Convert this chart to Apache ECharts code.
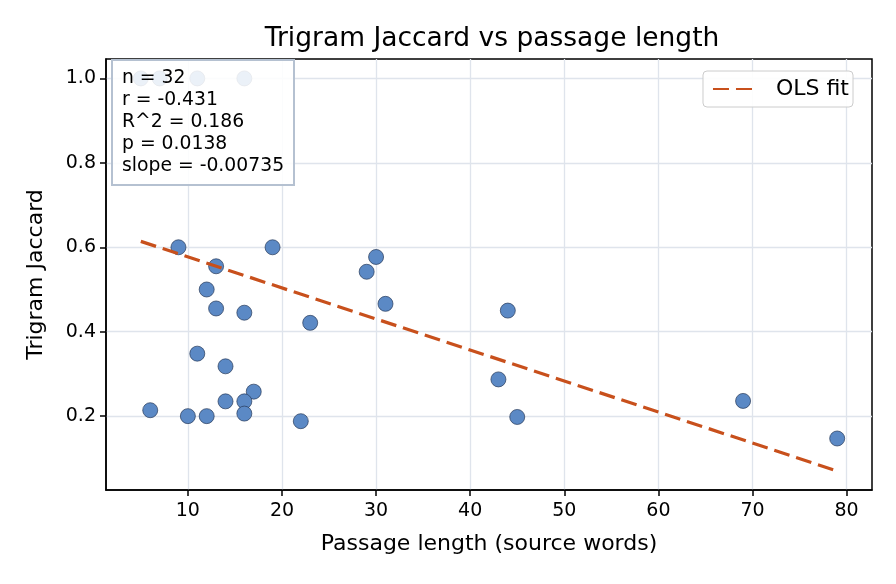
<!DOCTYPE html>
<html>
<head>
<meta charset="utf-8">
<script src="https://cdn.jsdelivr.net/npm/echarts@6/dist/echarts.min.js"></script>
<style>
  html, body { margin: 0; padding: 0; background: #fff; }
  #chart { width: 896px; height: 584px; }
</style>
</head>
<body>
<div id="chart"></div>
<script>
// passage length (source words) and trigram jaccard
const lengths = [5, 7, 11, 16, 9, 19, 13, 12, 13, 16, 11, 14, 17, 14, 16, 16, 6, 10, 12, 22,
                 30, 29, 31, 23, 44, 43, 45, 69, 79];
const jaccard = [1.0, 1.0, 1.0, 1.0, 0.6, 0.6, 0.555, 0.5, 0.455, 0.445, 0.348, 0.318, 0.258, 0.235, 0.235, 0.206, 0.214, 0.2, 0.2, 0.188,
                 0.577, 0.542, 0.466, 0.421, 0.45, 0.287, 0.198, 0.236, 0.147];

// fit stats shown in the box
const statLines = ["n = 32", "r = -0.431", "R^2 = 0.186", "p = 0.0138", "slope = -0.00735"];
const fitSlope = -0.00735;
const fitIntercept = 0.6507;

const xTicks = [10, 20, 30, 40, 50, 60, 70, 80];
const yTicks = [0.2, 0.4, 0.6, 0.8, 1.0];

const font = "DejaVu Sans";

let points = lengths.map((x, i) => [x, jaccard[i]]);
let xLo = Math.min(...lengths), xHi = Math.max(...lengths);
let fitLine = [[xLo, fitIntercept + fitSlope * xLo], [xHi, fitIntercept + fitSlope * xHi]];

let chart = echarts.init(document.getElementById("chart"));

const gridLine = { show: true, lineStyle: { color: "#dfe4ec", width: 1.3 } };

chart.setOption({
  animation: false,
  title: {
    text: "Trigram Jaccard vs passage length",
    left: 487, textAlign: "center", top: 21,
    textStyle: { fontFamily: font, fontSize: 26.5, fontWeight: "normal", color: "#000" }
  },
  legend: {
    right: 43, top: 71,
    backgroundColor: "rgba(255,255,255,0.9)",
    borderColor: "#cccccc", borderWidth: 1, borderRadius: 4,
    padding: [7, 4, 7, 9],
    itemWidth: 46, itemHeight: 14, itemGap: 10,
    itemStyle: { opacity: 0 },
    textStyle: { fontFamily: font, fontSize: 22, color: "#000", padding: [0, 0, 0, 12] },
    data: ["OLS fit"]
  },
  grid: { left: 106, right: 24, top: 59, bottom: 94, show: true, borderColor: "#000", borderWidth: 1.5 },
  xAxis: {
    type: "value", min: 1.3, max: 82.7,
    name: "Passage length (source words)", nameLocation: "middle", nameGap: 43,
    nameTextStyle: { fontFamily: font, fontSize: 22, color: "#000" },
    axisLine: { show: true, onZero: false, lineStyle: { color: "#000", width: 1.5 } },
    axisTick: { show: true, length: 6, customValues: xTicks, lineStyle: { color: "#000", width: 1.5 } },
    axisLabel: { customValues: xTicks, margin: 12, fontFamily: font, fontSize: 19, color: "#000" },
    splitLine: gridLine
  },
  yAxis: {
    type: "value", min: 0.025, max: 1.046,
    name: "Trigram Jaccard", nameLocation: "middle", nameGap: 59,
    nameTextStyle: { fontFamily: font, fontSize: 22, color: "#000" },
    axisLine: { show: true, onZero: false, lineStyle: { color: "#000", width: 1.5 } },
    axisTick: { show: true, length: 6, customValues: yTicks, lineStyle: { color: "#000", width: 1.5 } },
    axisLabel: { customValues: yTicks, margin: 10, fontFamily: font, fontSize: 19, color: "#000",
                 formatter: v => v.toFixed(1) },
    splitLine: gridLine
  },
  series: [
    {
      name: "points", type: "scatter", data: points, symbolSize: 15, z: 2,
      itemStyle: { color: "#5b89c5", borderColor: "#263a59", borderWidth: 0.7, opacity: 1 }
    },
    {
      name: "OLS fit", type: "line", data: fitLine, symbol: "none", z: 3,
      lineStyle: { color: "#c8501c", width: 3.2, type: [16, 7] },
      itemStyle: { color: "#c8501c" }
    }
  ],
  graphic: [{
    type: "group", left: 111, top: 59,
    children: [
      { type: "rect", z: 100, shape: { x: 0, y: 0, width: 182, height: 125 },
        style: { fill: "rgba(255,255,255,0.88)", stroke: "#b5c1d1", lineWidth: 2 } },
      { type: "text", z: 101, x: 10, y: 7,
        style: { text: statLines.join("\n"), font: "18.8px 'DejaVu Sans'", lineHeight: 22, fill: "#000" } }
    ]
  }]
});
</script>
</body>
</html>
